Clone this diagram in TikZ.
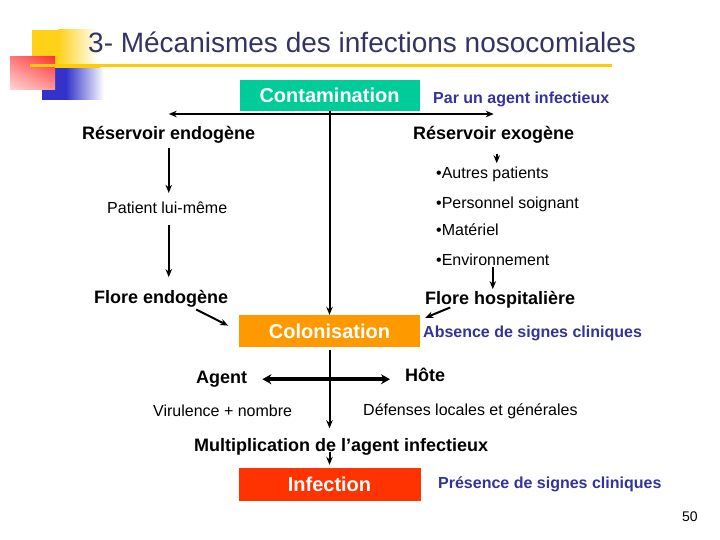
\documentclass[tikz,border=0pt]{standalone}
\usepackage{fontspec}
\setmainfont{Liberation Sans}
\usepackage{tikz}
\usetikzlibrary{arrows.meta,positioning,shadings}
\definecolor{titlenavy}{HTML}{333366}
\definecolor{textnavy}{HTML}{333399}
\definecolor{contgreen}{HTML}{00CC99}
\definecolor{colorange}{HTML}{FF9900}
\definecolor{infred}{HTML}{FF3300}
\definecolor{slidegold}{HTML}{FFCC00}
\definecolor{decoblue}{HTML}{3333CC}
\definecolor{decored}{HTML}{FF3333}
\newcommand{\fsz}[1]{\fontsize{#1}{#1}\selectfont}

\begin{document}
\begin{tikzpicture}[x=1pt, y=-1pt,
      stage/.style={minimum width=181pt, minimum height=32pt, inner sep=0pt,
                    text=white, font=\fsz{20}\bfseries},
      res/.style={anchor=base west, inner sep=2pt, font=\fsz{18}\bfseries},
      note/.style={anchor=base west, inner sep=2pt, font=\fsz{16}},
      sign/.style={anchor=base west, inner sep=2pt, font=\fsz{16}\bfseries, text=textnavy},
      arr/.style={-{Stealth[length=8pt, width=6.5pt]}, line width=2pt},
      bigarr/.style={{Stealth[length=9pt, width=10pt]}-{Stealth[length=9pt, width=10pt]},
                     line width=3.6pt}]
    \useasboundingbox (0,0) rectangle (720,540);

    % slide decoration
    \fill[slidegold!90] (32,30) rectangle (58,66);
    \shade[left color=slidegold!90, right color=white] (58,30) rectangle (98,66);
    \fill[decoblue] (42,66) rectangle (66,100);
    \shade[left color=decoblue, right color=white] (66,66) rectangle (104,100);
    \shade[upper left=decored!65, upper right=decored, lower left=white!80!decored,
           lower right=decored!50] (10,57) rectangle (55,90);
    \draw[slidegold, line width=3pt] (30,66) -- (612,66);
    \shade[left color=slidegold, middle color=gray!70!blue, right color=slidegold]
          (55,64.5) rectangle (100,67.5);
    \node[anchor=base west, inner sep=0pt, font=\fsz{28}, text=titlenavy] (title)
          at (88,53) {3- Mécanismes des infections nosocomiales};

    % stages
    \node[stage, fill=contgreen, minimum width=180pt, minimum height=31pt] (cont)
          at (329.5,95.5) {Contamination};
    \node[stage, fill=colorange] (colon) at (329.5,331) {Colonisation};
    \node[stage, fill=infred, minimum width=182pt, minimum height=33pt] (infect)
          at (329.5,484.5) {Infection};

    % labels
    \node[sign] (agentinf) at (431,104) {Par un agent infectieux};
    \node[res] (resendo) at (80,139.5) {Réservoir endogène};
    \node[res] (resexo) at (411,139.5) {Réservoir exogène};
    \node[note] (patient) at (105,213.7) {Patient lui-même};
    \node[note] (bul1) at (434,179) {•Autres patients};
    \node[note] (bul2) at (434,208) {•Personnel soignant};
    \node[note] (bul3) at (434,236) {•Matériel};
    \node[note] (bul4) at (434,265) {•Environnement};
    \node[res] (floreendo) at (92,303.5) {Flore endogène};
    \node[res] (florehosp) at (423,304.5) {Flore hospitalière};
    \node[sign] (absence) at (421,337.7) {Absence de signes cliniques};
    \node[res] (agent) at (194,383.5) {Agent};
    \node[res] (hote) at (403,381.5) {Hôte};
    \node[note] (virul) at (151,416.7) {Virulence + nombre};
    \node[note] (defense) at (361,415.7) {Défenses locales et générales};
    \node[res] (mult) at (192,451.5) {Multiplication de l’agent infectieux};
    \node[sign] (presence) at (436,488.7) {Présence de signes cliniques};
    \node[note, font=\fsz{14}] (pagenum) at (680,521) {50};

    % connectors
    \coordinate (split) at (329.5,114);
    \draw[arr] (split) -- (split -| resendo);
    \draw[arr] (split) -- (split -| resexo);
    \draw[arr] (cont.south) -- (colon.north);
    \draw[arr, shorten <=2pt, shorten >=7pt] (resendo.south) -- (resendo.south |- patient.north);
    \draw[arr, shorten <=9pt, shorten >=11pt] (resendo.south |- patient.south)
          -- (resendo.south |- floreendo.north);
    \draw[arr, shorten <=8pt, shorten >=2pt] ([xshift=3pt]resexo.south)
          -- ([xshift=3pt]resexo.south |- bul1.north);
    \draw[arr] (bul4.south) -- (bul4.south |- florehosp.north);
    \draw[arr, shorten >=12pt] ([xshift=35pt]floreendo.south) -- (colon.west);
    \draw[arr] ([xshift=-50pt, yshift=3pt]florehosp.south)
          -- ([xshift=5pt, yshift=-3pt]colon.north east);
    \draw[arr, shorten <=3pt, shorten >=8pt] (colon.south) -- (colon.south |- mult.north);
    \draw[arr, shorten >=3pt] (colon.south |- mult.base) -- (infect.north);
    \draw[bigarr, shorten <=13pt, shorten >=13pt] (agent.east) -- (agent.east -| hote.west);
  \end{tikzpicture}
\end{document}
